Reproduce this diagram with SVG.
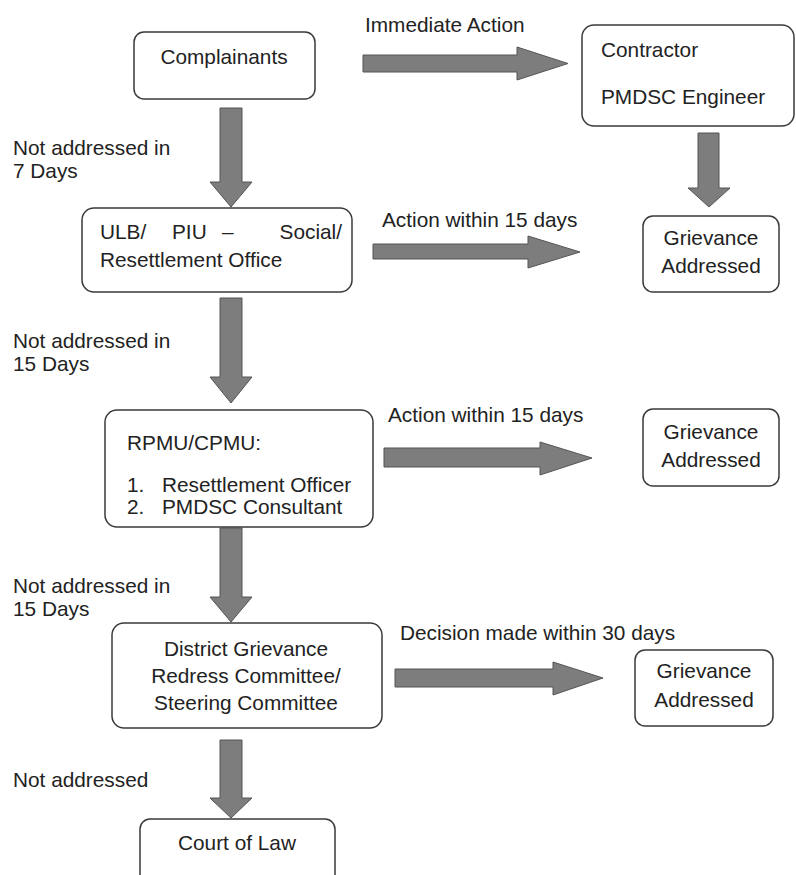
<svg xmlns="http://www.w3.org/2000/svg" width="796" height="875" viewBox="0 0 796 875">
<style>
.box{fill:#fff;stroke:#3a3a3a;stroke-width:1.5}
.arr{fill:#7d7d7d;stroke:#555;stroke-width:1}
text{font-family:"Liberation Sans",Arial,sans-serif;font-size:20.8px;fill:#222}
.m{text-anchor:middle}
.e{text-anchor:end}
</style>
<rect width="796" height="875" fill="#fff"/>
<g id="connectors">
<polygon class="arr" points="220,108 242,108 242,182 252,182 231,207 210,182 220,182"/>
<polygon class="arr" points="220,298 242,298 242,377 252,377 231,403 210,377 220,377"/>
<polygon class="arr" points="220,528 242,528 242,597 252,597 231,622 210,597 220,597"/>
<polygon class="arr" points="220,740 242,740 242,798 252,798 231,818 210,798 220,798"/>
<polygon class="arr" points="698,133 719,133 719,188 730,188 709,207 688,188 698,188"/>
<polygon class="arr" points="363,55 517,55 517,47 568,63.5 517,80 517,72 363,72"/>
<polygon class="arr" points="373,244 528,244 528,236 580,252 528,268 528,259 373,259"/>
<polygon class="arr" points="384,448 540,448 540,442 592,458 540,475 540,467 384,467"/>
<polygon class="arr" points="395,669 553,669 553,662 603,678 553,695 553,687 395,687"/>
<text x="365" y="32">Immediate Action</text>
<text x="382" y="227">Action within 15 days</text>
<text x="388" y="422">Action within 15 days</text>
<text x="400" y="640">Decision made within 30 days</text>
<text x="13" y="155">Not addressed in</text>
<text x="13" y="178">7 Days</text>
<text x="13" y="348">Not addressed in</text>
<text x="13" y="371">15 Days</text>
<text x="13" y="593">Not addressed in</text>
<text x="13" y="616">15 Days</text>
<text x="13" y="787">Not addressed</text>
</g>
<g id="complainants">
<rect class="box" x="134" y="32" width="181" height="67" rx="10"/>
<text class="m" x="224" y="64">Complainants</text>
</g>
<g id="contractor">
<rect class="box" x="582" y="25" width="212" height="101" rx="12"/>
<text x="601" y="57">Contractor</text>
<text x="601" y="104">PMDSC Engineer</text>
</g>
<g id="grievance1">
<rect class="box" x="643" y="216" width="136" height="76" rx="10"/>
<text class="m" x="711" y="245">Grievance</text>
<text class="m" x="711" y="273">Addressed</text>
</g>
<g id="ulb">
<rect class="box" x="82" y="208" width="270" height="84" rx="12"/>
<text x="100" y="239">ULB/</text>
<text x="172" y="239">PIU</text>
<text x="222" y="239">–</text>
<text class="e" x="342" y="239">Social/</text>
<text x="100" y="267">Resettlement Office</text>
</g>
<g id="rpmu">
<rect class="box" x="105" y="410" width="268" height="117" rx="12"/>
<text x="127" y="450">RPMU/CPMU:</text>
<text x="127" y="492">1.</text>
<text x="162" y="492">Resettlement Officer</text>
<text x="127" y="514">2.</text>
<text x="162" y="514">PMDSC Consultant</text>
</g>
<g id="grievance2">
<rect class="box" x="643" y="409" width="136" height="77" rx="10"/>
<text class="m" x="711" y="439">Grievance</text>
<text class="m" x="711" y="467">Addressed</text>
</g>
<g id="district">
<rect class="box" x="112" y="623" width="270" height="105" rx="12"/>
<text class="m" x="246" y="656">District Grievance</text>
<text class="m" x="246" y="683">Redress Committee/</text>
<text class="m" x="246" y="710">Steering Committee</text>
</g>
<g id="grievance3">
<rect class="box" x="635" y="650" width="138" height="76" rx="10"/>
<text class="m" x="704" y="678">Grievance</text>
<text class="m" x="704" y="707">Addressed</text>
</g>
<g id="court">
<rect class="box" x="140" y="819" width="195" height="80" rx="10"/>
<text class="m" x="237" y="850">Court of Law</text>
</g>
</svg>
